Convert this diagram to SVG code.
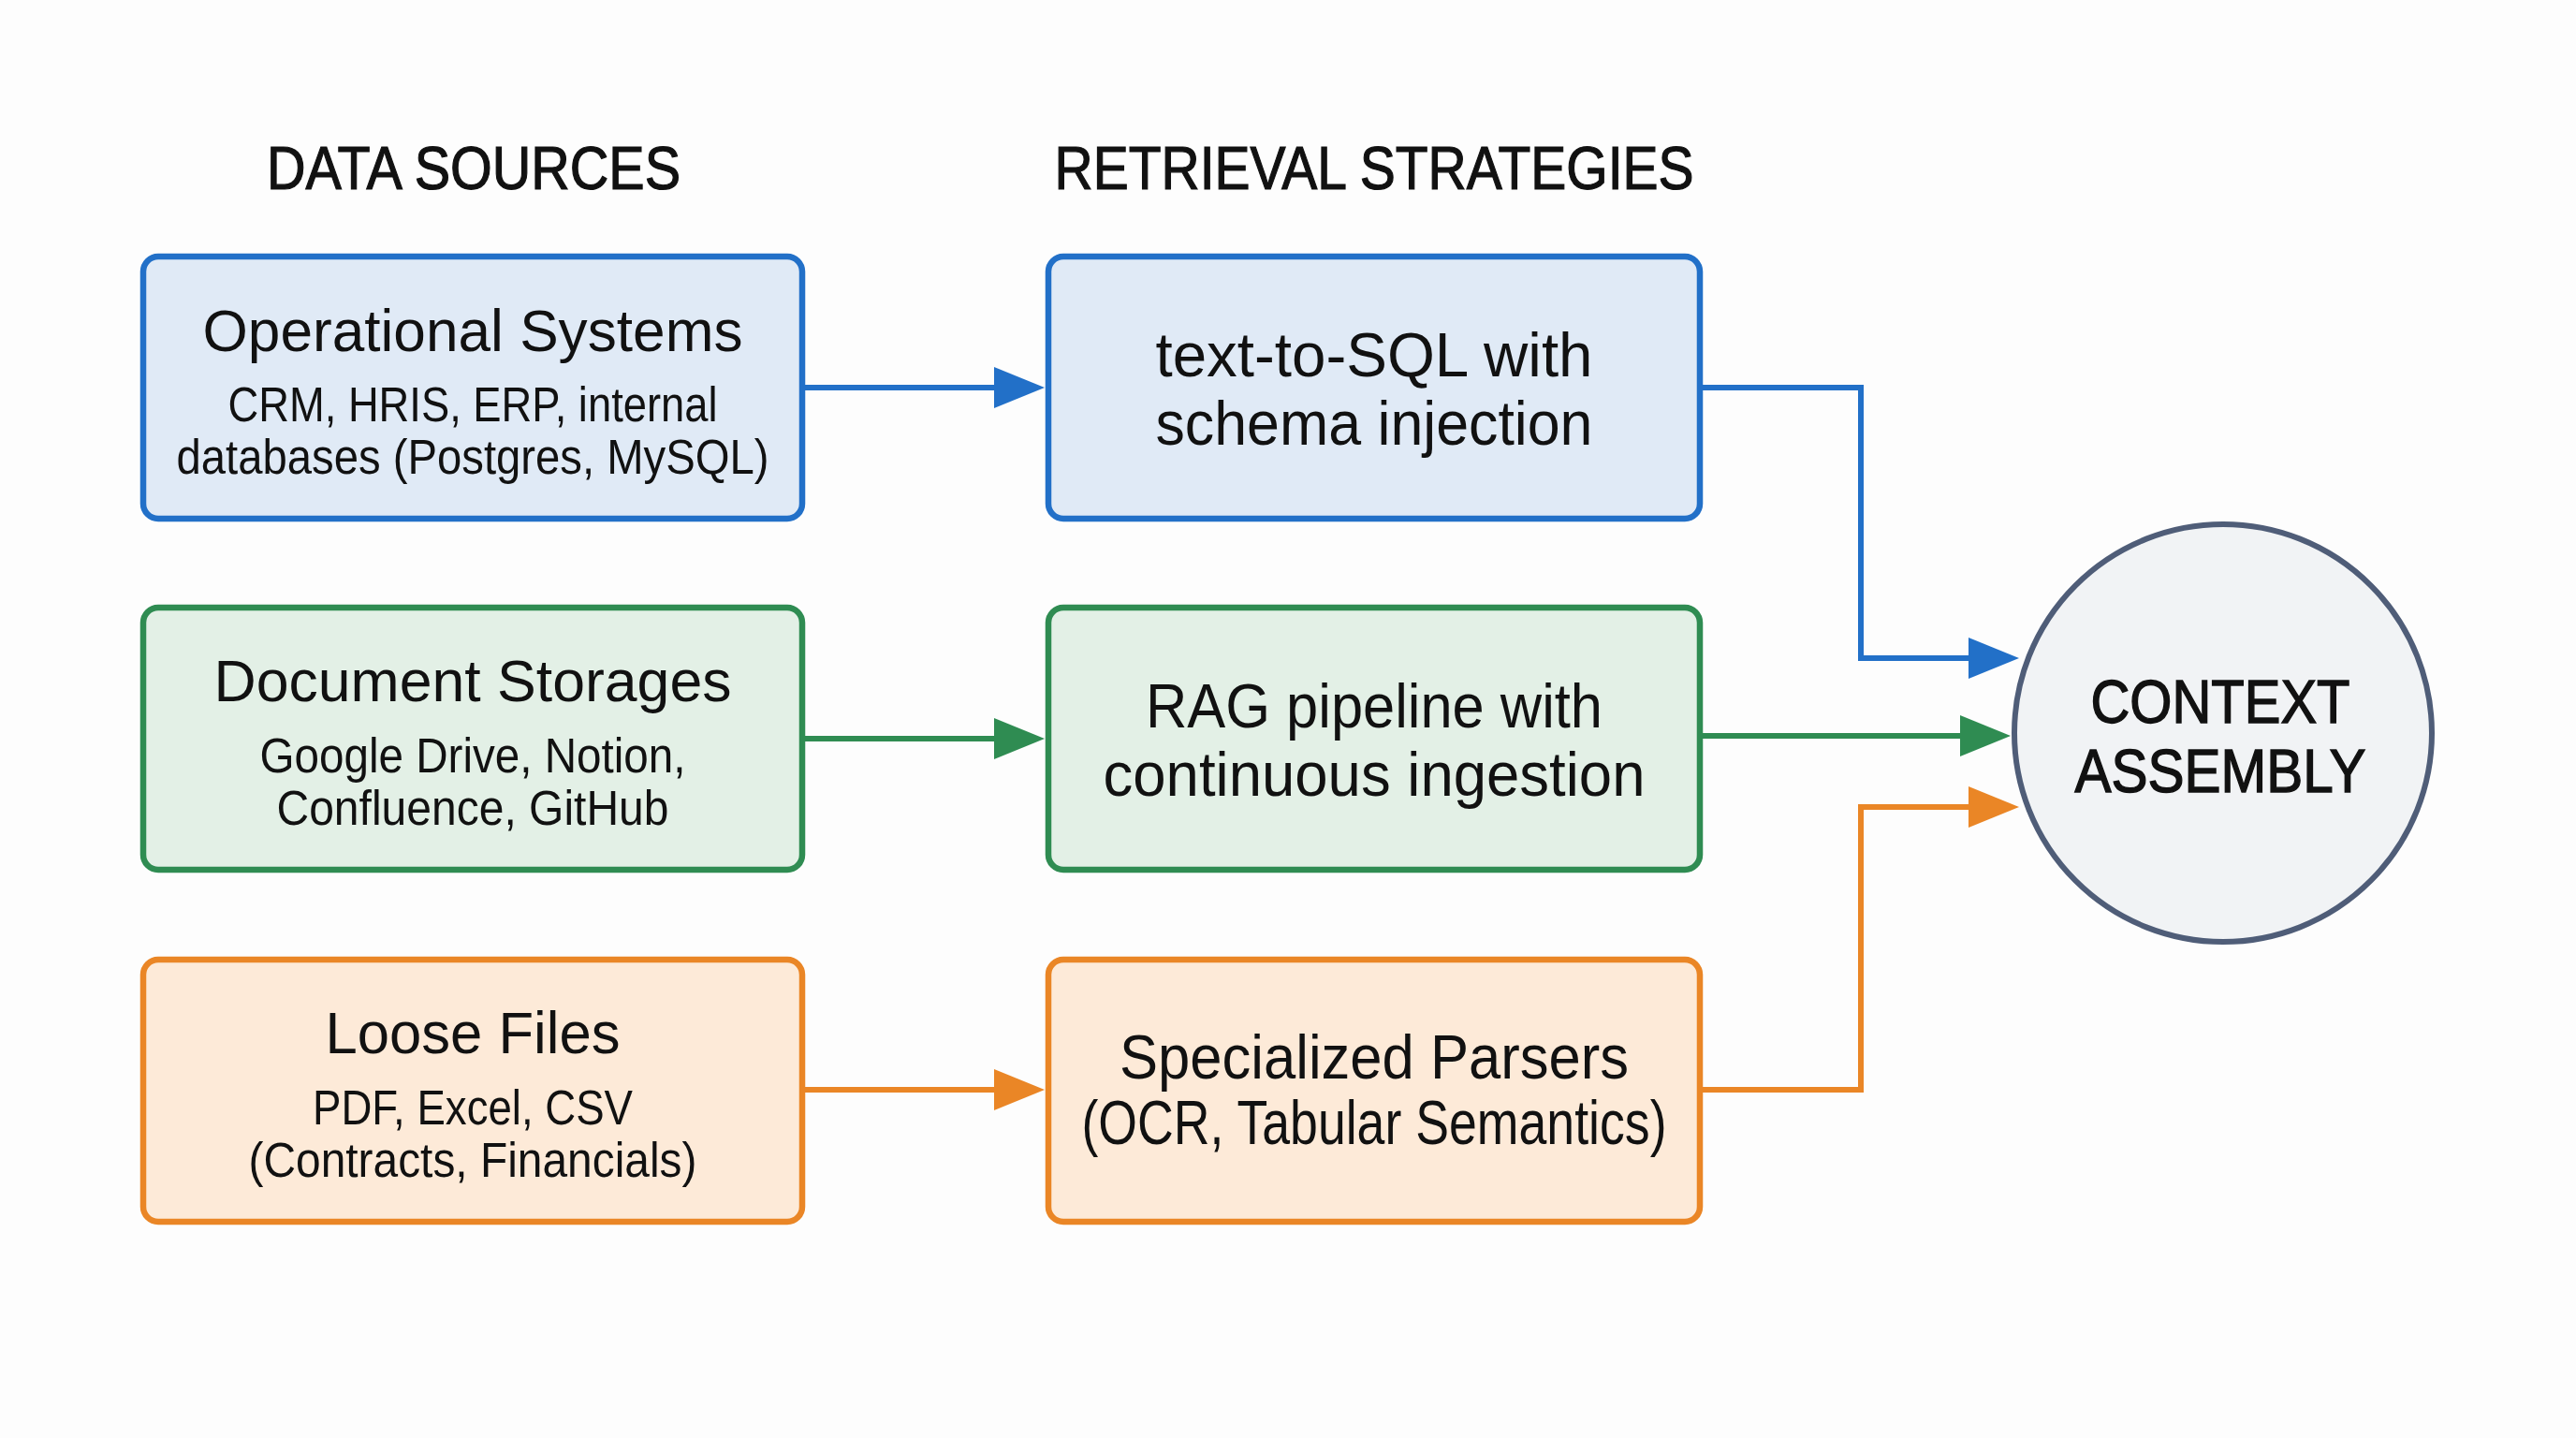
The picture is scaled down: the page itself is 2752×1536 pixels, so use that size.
<svg xmlns="http://www.w3.org/2000/svg" width="2752" height="1536" viewBox="0 0 2752 1536">
  <style>
    text { font-family: "Liberation Sans", Arial, sans-serif; fill: #111111; text-anchor: middle; }
    .hdr { font-size: 64px; stroke: #111111; stroke-width: 1.2px; }
    .ttl { font-size: 63px; }
    .sub { font-size: 51px; }
    .big { font-size: 66px; }
    .ctx { font-size: 64px; stroke: #111111; stroke-width: 1.4px; }
    .box { stroke-width: 6.5; }
    .blue { fill: #e0eaf6; stroke: #2270c8; }
    .green { fill: #e3f0e6; stroke: #2f8c52; }
    .orange { fill: #fdead8; stroke: #ea8626; }
    .ln { fill: none; stroke-width: 6; stroke-linejoin: miter; }
    .lb { stroke: #2270c8; }
    .lg { stroke: #2f8c52; }
    .lo { stroke: #ea8626; }
    .hb { fill: #2270c8; }
    .hg { fill: #2f8c52; }
    .ho { fill: #ea8626; }
  </style>
  <rect x="0" y="0" width="2752" height="1536" fill="#fdfdfd"/>

  <g id="headers">
    <text class="hdr" x="506" y="202" textLength="442" lengthAdjust="spacingAndGlyphs">DATA SOURCES</text>
    <text class="hdr" x="1468" y="202" textLength="683" lengthAdjust="spacingAndGlyphs">RETRIEVAL STRATEGIES</text>
  </g>

  <g id="operational-systems">
    <rect class="box blue" x="153" y="274" width="704" height="280" rx="16"/>
    <text class="ttl" x="505" y="375" textLength="577" lengthAdjust="spacingAndGlyphs">Operational Systems</text>
    <text class="sub" x="505" y="450" textLength="523" lengthAdjust="spacingAndGlyphs">CRM, HRIS, ERP, internal</text>
    <text class="sub" x="505" y="506" textLength="633" lengthAdjust="spacingAndGlyphs">databases (Postgres, MySQL)</text>
  </g>

  <g id="document-storages">
    <rect class="box green" x="153" y="649" width="704" height="280" rx="16"/>
    <text class="ttl" x="505" y="749" textLength="553" lengthAdjust="spacingAndGlyphs">Document Storages</text>
    <text class="sub" x="505" y="825" textLength="455" lengthAdjust="spacingAndGlyphs">Google Drive, Notion,</text>
    <text class="sub" x="505" y="881" textLength="419" lengthAdjust="spacingAndGlyphs">Confluence, GitHub</text>
  </g>

  <g id="loose-files">
    <rect class="box orange" x="153" y="1025" width="704" height="280" rx="16"/>
    <text class="ttl" x="505" y="1125" textLength="315" lengthAdjust="spacingAndGlyphs">Loose Files</text>
    <text class="sub" x="505" y="1201" textLength="342" lengthAdjust="spacingAndGlyphs">PDF, Excel, CSV</text>
    <text class="sub" x="505" y="1257" textLength="479" lengthAdjust="spacingAndGlyphs">(Contracts, Financials)</text>
  </g>

  <g id="text-to-sql">
    <rect class="box blue" x="1120" y="274" width="696" height="280" rx="16"/>
    <text class="big" x="1468" y="402" textLength="467" lengthAdjust="spacingAndGlyphs">text-to-SQL with</text>
    <text class="big" x="1468" y="475" textLength="467" lengthAdjust="spacingAndGlyphs">schema injection</text>
  </g>

  <g id="rag-pipeline">
    <rect class="box green" x="1120" y="649" width="696" height="280" rx="16"/>
    <text class="big" x="1468" y="777" textLength="488" lengthAdjust="spacingAndGlyphs">RAG pipeline with</text>
    <text class="big" x="1468" y="850" textLength="579" lengthAdjust="spacingAndGlyphs">continuous ingestion</text>
  </g>

  <g id="specialized-parsers">
    <rect class="box orange" x="1120" y="1025" width="696" height="280" rx="16"/>
    <text class="big" x="1468" y="1152" textLength="544" lengthAdjust="spacingAndGlyphs">Specialized Parsers</text>
    <text class="big" x="1468" y="1222" textLength="625" lengthAdjust="spacingAndGlyphs">(OCR, Tabular Semantics)</text>
  </g>

  <g id="context-assembly">
    <circle cx="2375" cy="783" r="223" fill="#f1f3f5" stroke="#4f5d78" stroke-width="6"/>
    <text class="ctx" x="2372" y="772" textLength="277" lengthAdjust="spacingAndGlyphs">CONTEXT</text>
    <text class="ctx" x="2372" y="846" textLength="311" lengthAdjust="spacingAndGlyphs">ASSEMBLY</text>
  </g>

  <g id="connectors">
    <path class="ln lb" d="M860 414 H1066"/>
    <polygon class="hb" points="1116,414 1062,392 1062,436"/>
    <path class="ln lg" d="M860 789 H1066"/>
    <polygon class="hg" points="1116,789 1062,767 1062,811"/>
    <path class="ln lo" d="M860 1164 H1066"/>
    <polygon class="ho" points="1116,1164 1062,1142 1062,1186"/>

    <path class="ln lb" d="M1819 414 H1988 V703 H2107"/>
    <polygon class="hb" points="2157,703 2103,681 2103,725"/>
    <path class="ln lg" d="M1819 786 H2098"/>
    <polygon class="hg" points="2148,786 2094,764 2094,808"/>
    <path class="ln lo" d="M1819 1164 H1988 V862 H2107"/>
    <polygon class="ho" points="2157,862 2103,840 2103,884"/>
  </g>
</svg>
